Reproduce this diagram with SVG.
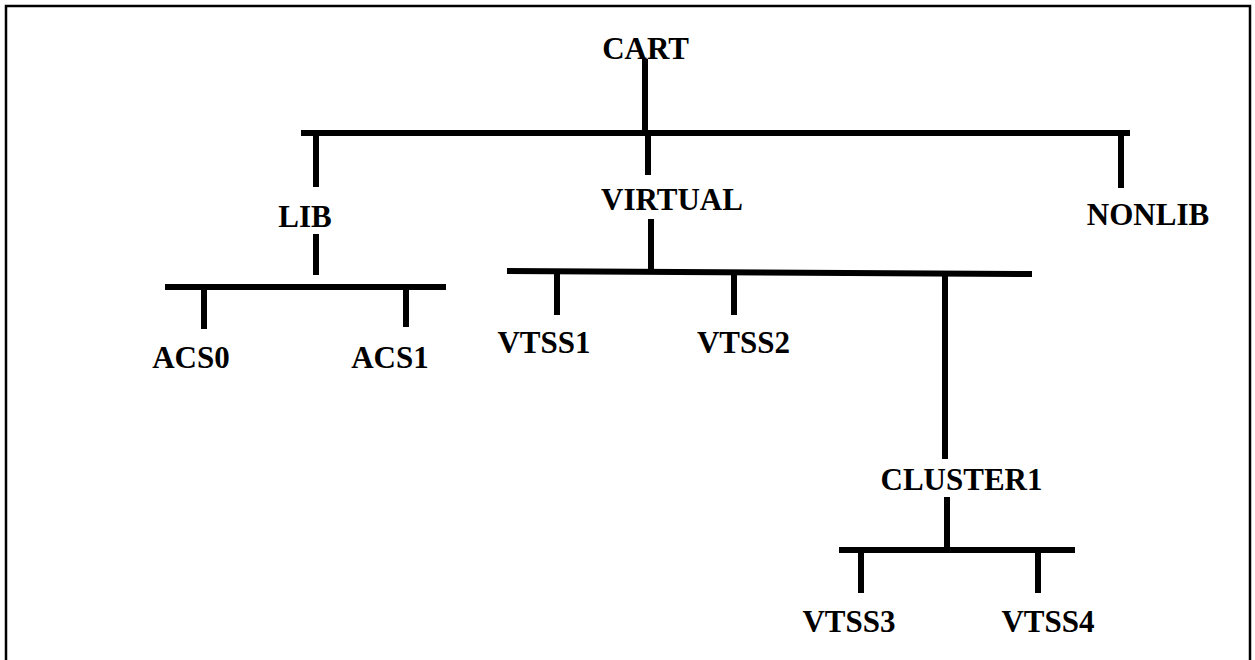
<svg xmlns="http://www.w3.org/2000/svg" width="1255" height="660" viewBox="0 0 1255 660">
<style>
.lbl{font-family:"Liberation Serif","Times New Roman",serif;font-weight:bold;font-size:31px;fill:#000;text-anchor:middle}
.c line{stroke:#000;stroke-width:6;stroke-linecap:butt}
</style>
<rect width="1255" height="660" fill="#fff"/>
<path d="M6,660 V6 H1250 V660" fill="none" stroke="#000" stroke-width="2.5"/>
<g class="c" id="connectors">
<line x1="645" y1="59" x2="645" y2="133"/>
<line x1="301" y1="133" x2="1130" y2="133"/>
<line x1="316" y1="133" x2="316" y2="187"/>
<line x1="648" y1="133" x2="648" y2="175"/>
<line x1="1121" y1="133" x2="1121" y2="188"/>
<line x1="316" y1="234" x2="316" y2="275"/>
<line x1="165" y1="287" x2="446" y2="287"/>
<line x1="204" y1="287" x2="204" y2="329"/>
<line x1="406" y1="287" x2="406" y2="327"/>
<line x1="651" y1="219" x2="651" y2="271"/>
<line x1="507" y1="271" x2="1032" y2="274"/>
<line x1="557" y1="272" x2="557" y2="315"/>
<line x1="734" y1="272" x2="734" y2="315"/>
<line x1="945" y1="273" x2="945" y2="459"/>
<line x1="947" y1="497" x2="947" y2="550"/>
<line x1="839" y1="550" x2="1075" y2="550"/>
<line x1="861" y1="550" x2="861" y2="593"/>
<line x1="1038" y1="550" x2="1038" y2="593"/>
</g>
<g id="cart"><text class="lbl" x="645.5" y="59">CART</text></g>
<g id="lib"><text class="lbl" x="305" y="227">LIB</text></g>
<g id="virtual"><text class="lbl" x="672" y="210">VIRTUAL</text></g>
<g id="nonlib"><text class="lbl" x="1148" y="225">NONLIB</text></g>
<g id="acs0"><text class="lbl" x="191" y="368">ACS0</text></g>
<g id="acs1"><text class="lbl" x="390" y="368">ACS1</text></g>
<g id="vtss1"><text class="lbl" x="544" y="353">VTSS1</text></g>
<g id="vtss2"><text class="lbl" x="743.5" y="353">VTSS2</text></g>
<g id="cluster1"><text class="lbl" x="961.5" y="490">CLUSTER1</text></g>
<g id="vtss3"><text class="lbl" x="849" y="632">VTSS3</text></g>
<g id="vtss4"><text class="lbl" x="1048" y="632">VTSS4</text></g>
</svg>
